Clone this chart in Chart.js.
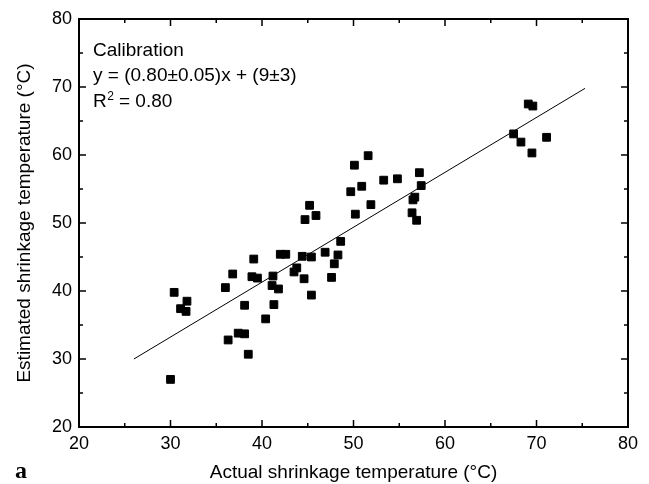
<!DOCTYPE html>
<html>
<head>
<meta charset="utf-8">
<script src="https://cdn.jsdelivr.net/npm/chart.js@4/dist/chart.umd.min.js"></script>
<style>
  html, body { margin: 0; padding: 0; background: #fff; }
  #wrap { width: 649px; height: 484px; }
</style>
</head>
<body>
<div id="wrap"><canvas id="myChart" width="649" height="484"></canvas></div>
<script>
// measured points (actual vs estimated shrinkage temperature, °C)
const actualTemp = [
  30.0, 30.4, 31.1, 31.8, 31.7, 36.0, 36.3, 36.8, 37.4, 38.1,
  38.1, 38.5, 39.1, 38.9, 39.5, 40.4, 41.1, 41.2, 41.3, 41.8,
  42.0, 42.6, 43.5, 43.8, 44.4, 44.6, 44.7, 45.2, 45.4, 45.4,
  45.9, 46.9, 47.6, 47.9, 48.3, 48.6, 49.7, 50.1, 50.2, 50.9,
  51.6, 51.9, 53.3, 54.8, 56.4, 56.5, 56.7, 56.9, 57.2, 57.4,
  67.5, 68.3, 69.1, 69.6, 69.5, 71.1
];
const estimatedTemp = [
  27.0, 39.8, 37.4, 38.5, 37.0, 40.5, 32.8, 42.5, 33.8, 33.7,
  37.9, 30.7, 44.7, 42.1, 41.9, 35.9, 40.8, 42.2, 38.0, 40.3,
  45.4, 45.4, 42.8, 43.4, 45.1, 41.8, 50.5, 52.6, 45.0, 39.4,
  51.1, 45.7, 42.0, 44.0, 45.3, 47.3, 54.6, 58.5, 51.3, 55.4,
  59.9, 52.7, 56.3, 56.5, 51.5, 53.4, 53.8, 50.4, 57.4, 55.5,
  63.1, 61.9, 67.5, 67.2, 60.3, 62.6
];

// calibration line end points
const fitX = [26.0, 75.3];
const fitY = [30.0, 69.8];

const annotationLines = ["Calibration", "y = (0.80\u00b10.05)x + (9\u00b13)"];

const FONT = "'Liberation Sans', Arial, sans-serif";
const ctx = document.getElementById("myChart");

// inward ticks on all four sides + frame + text annotations
const framePlugin = {
  id: "frame",
  afterDraw(chart) {
    const c = chart.ctx;
    const { left, right, top, bottom } = chart.chartArea;
    const xs = chart.scales.x;
    const ys = chart.scales.y;
    c.save();
    c.strokeStyle = "#000";
    c.lineWidth = 1.5;
    c.beginPath();
    for (let v = 20; v <= 80; v += 5) {
      const len = v % 10 === 0 ? 7 : 4;
      const px = xs.getPixelForValue(v);
      c.moveTo(px, bottom); c.lineTo(px, bottom - len);
      c.moveTo(px, top); c.lineTo(px, top + len);
      const py = ys.getPixelForValue(v);
      c.moveTo(left, py); c.lineTo(left + len, py);
      c.moveTo(right, py); c.lineTo(right - len, py);
    }
    c.stroke();
    c.lineWidth = 2;
    c.strokeRect(left, top, right - left, bottom - top);

    c.fillStyle = "#000";
    c.textBaseline = "alphabetic";
    c.textAlign = "left";
    c.font = "19px " + FONT;
    c.fillText(annotationLines[0], left + 14, top + 37);
    c.fillText(annotationLines[1], left + 14, top + 62);
    c.fillText("R", left + 14, top + 88);
    const rw = c.measureText("R").width;
    c.font = "12px " + FONT;
    c.fillText("2", left + 14 + rw + 0.5, top + 81);
    c.font = "19px " + FONT;
    c.fillText("= 0.80", left + 40, top + 88);

    c.font = "bold 24px 'Liberation Serif', 'DejaVu Serif', serif";
    c.fillText("a", 15, 478);
    c.restore();
  }
};

const tickFont = { family: FONT, size: 18 };
const titleFont = { family: FONT, size: 19 };

new Chart(ctx, {
  type: "scatter",
  data: {
    datasets: [
      {
        data: actualTemp.map((x, i) => ({ x: x, y: estimatedTemp[i] })),
        pointStyle: "rect",
        pointRadius: 5.5,
        borderWidth: 1,
        backgroundColor: "#000",
        borderColor: "#000"
      },
      {
        type: "line",
        data: fitX.map((x, i) => ({ x: x, y: fitY[i] })),
        borderColor: "#000",
        borderWidth: 1,
        pointRadius: 0,
        fill: false
      }
    ]
  },
  options: {
    responsive: false,
    animation: false,
    layout: { padding: { left: 0, top: 19, right: 21, bottom: 0 } },
    scales: {
      x: {
        type: "linear",
        min: 20,
        max: 80,
        ticks: { stepSize: 10, color: "#000", font: tickFont, padding: 6, maxRotation: 0 },
        grid: { display: false, drawTicks: false },
        border: { display: false },
        title: {
          display: true,
          text: "Actual shrinkage temperature (\u00b0C)",
          color: "#000",
          font: titleFont,
          padding: { top: 0, bottom: 0 }
        },
        afterFit(scale) { scale.height = 57; }
      },
      y: {
        type: "linear",
        min: 20,
        max: 80,
        ticks: { stepSize: 10, color: "#000", font: tickFont, padding: 7 },
        grid: { display: false, drawTicks: false },
        border: { display: false },
        title: {
          display: true,
          text: "Estimated shrinkage temperature (\u00b0C)",
          color: "#000",
          font: titleFont,
          padding: { top: 13, bottom: 0 }
        },
        afterFit(scale) { scale.width = 79; }
      }
    },
    plugins: {
      legend: { display: false },
      tooltip: { enabled: false }
    }
  },
  plugins: [framePlugin]
});
</script>
</body>
</html>
